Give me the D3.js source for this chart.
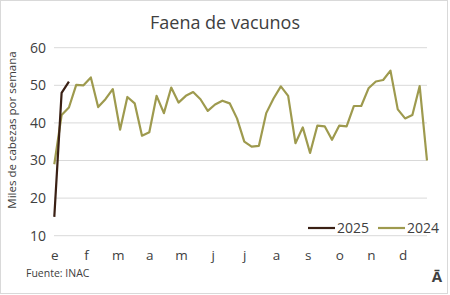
<!DOCTYPE html>
<html>
<head>
<meta charset="utf-8">
<script src="https://cdn.jsdelivr.net/npm/d3@7"></script>
<style>
  body { margin: 0; background: #fff; }
  svg text { font-family: "Open Sans", "Noto Sans", sans-serif; fill: #404040; }
</style>
</head>
<body>
<svg id="chart" width="450" height="295"></svg>
<script>
  // weekly slaughter, thousands of head
  var months = ["e", "f", "m", "a", "m", "j", "j", "a", "s", "o", "n", "d"];
  var yTicks = [10, 20, 30, 40, 50, 60];

  var serie2024 = [29, 42.1, 44.1, 50.1, 50, 52.1, 44.2, 46.3, 49, 38.2,
                   46.9, 45.2, 36.6, 37.5, 47.2, 42.6, 49.4, 45.4, 47.2, 48.2,
                   46.3, 43.2, 44.9, 45.9, 45.2, 41.2, 35, 33.7, 33.9, 42.6,
                   46.5, 49.7, 47.2, 34.6, 38.8, 32, 39.3, 39.1, 35.5, 39.3,
                   39.1, 44.5, 44.5, 49.2, 51, 51.4, 53.9, 43.6, 41.2, 42.1,
                   49.8, 30];
  var serie2025 = [15, 48, 51];

  var svg = d3.select("#chart");

  svg.append("rect")
    .attr("x", 0.5).attr("y", 0.5)
    .attr("width", 447).attr("height", 293)
    .attr("fill", "#fff").attr("stroke", "#d9d9d9");

  var x = d3.scaleLinear().domain([0, 51]).range([54.3, 427]);
  var y = d3.scaleLinear().domain([10, 60]).range([235.7, 47.7]);
  var weeksPerMonth = 52 / 12;

  // grid
  svg.append("g")
    .selectAll("line")
    .data(yTicks)
    .enter().append("line")
    .attr("x1", 54).attr("x2", 427)
    .attr("y1", function (d) { return y(d); })
    .attr("y2", function (d) { return y(d); })
    .attr("stroke", "#d9d9d9")
    .attr("stroke-width", 1);

  var yAxis = svg.append("g")
    .attr("transform", "translate(46,0)")
    .call(d3.axisLeft(y).tickValues(yTicks).tickSize(0).tickPadding(0));
  yAxis.select(".domain").remove();
  yAxis.selectAll("text")
    .attr("font-size", 14)
    .attr("font-family", null)
    .attr("fill", "#404040");

  var xAxis = svg.append("g")
    .attr("transform", "translate(0,250)")
    .call(d3.axisBottom(d3.scaleLinear().domain([0, 11]).range([x(0), x(11 * weeksPerMonth)]))
      .tickValues(d3.range(12))
      .tickFormat(function (d) { return months[d]; })
      .tickSize(0).tickPadding(0));
  xAxis.select(".domain").remove();
  xAxis.selectAll("text")
    .attr("font-size", 13.5)
    .attr("font-family", null)
    .attr("fill", "#404040");

  var line = d3.line()
    .x(function (d, i) { return x(i); })
    .y(function (d) { return y(d); });

  svg.append("path")
    .datum(serie2024)
    .attr("d", line)
    .attr("fill", "none")
    .attr("stroke", "#9e9a4e")
    .attr("stroke-width", 2.2)
    .attr("stroke-linejoin", "round");

  svg.append("path")
    .datum(serie2025)
    .attr("d", line)
    .attr("fill", "none")
    .attr("stroke", "#3a2014")
    .attr("stroke-width", 2.2)
    .attr("stroke-linejoin", "round");

  // title & labels
  svg.append("text")
    .attr("x", 225).attr("y", 29)
    .attr("text-anchor", "middle")
    .attr("font-size", 18)
    .text("Faena de vacunos");

  svg.append("text")
    .attr("transform", "translate(16,130) rotate(-90)")
    .attr("text-anchor", "middle")
    .attr("font-size", 11.5)
    .text("Miles de cabezas por semana");

  svg.append("text")
    .attr("x", 26).attr("y", 277)
    .attr("font-size", 10.5)
    .text("Fuente: INAC");

  svg.append("text")
    .attr("x", 437).attr("y", 282)
    .attr("text-anchor", "middle")
    .attr("font-size", 15)
    .attr("font-weight", "bold")
    .text("Ā");

  // legend
  var legend = [
    { name: "2025", color: "#3a2014", x: 308 },
    { name: "2024", color: "#9e9a4e", x: 378 }
  ];
  var lg = svg.append("g").selectAll("g").data(legend).enter().append("g");
  lg.append("line")
    .attr("x1", function (d) { return d.x; })
    .attr("x2", function (d) { return d.x + 27; })
    .attr("y1", 228).attr("y2", 228)
    .attr("stroke", function (d) { return d.color; })
    .attr("stroke-width", 2.2);
  lg.append("text")
    .attr("x", function (d) { return d.x + 29; })
    .attr("y", 233)
    .attr("font-size", 14)
    .text(function (d) { return d.name; });
</script>
</body>
</html>
